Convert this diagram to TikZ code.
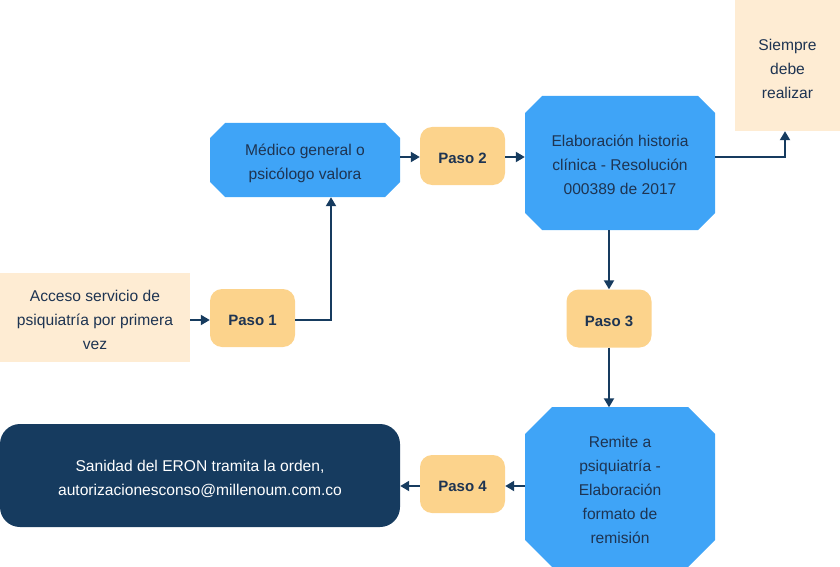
\documentclass[tikz,border=0pt]{standalone}
\usepackage{fontspec}
\setmainfont{Liberation Sans}
\usetikzlibrary{arrows.meta}
\definecolor{cblue}{HTML}{3FA4F7}
\definecolor{cpeach}{HTML}{FEECD3}
\definecolor{corange}{HTML}{FCD38C}
\definecolor{cnavy}{HTML}{163B5F}
\definecolor{ctext}{HTML}{1E3452}
\newcommand\octfill[5]{% x1 y1 x2 y2 chamfer
  \fill[cblue] (#1+#5,#2) -- (#3-#5,#2) -- (#3,#2+#5) -- (#3,#4-#5) -- (#3-#5,#4) -- (#1+#5,#4) -- (#1,#4-#5) -- (#1,#2+#5) -- cycle;}
\begin{document}
\begin{tikzpicture}[x=1pt,y=-1pt,
  every node/.style={text=ctext, align=center, inner sep=0pt},
  txt/.style={font=\fontsize{15.6}{24}\selectfont},
  ptxt/.style={font=\fontsize{15}{24}\selectfont\bfseries},
  peach/.style={rectangle, fill=cpeach},
  paso/.style={rectangle, rounded corners=12pt, fill=corange, minimum width=85pt, minimum height=58pt},
  octa/.style={rectangle},
  conn/.style={draw=cnavy, line width=2pt, -{Triangle[length=9pt,width=10pt]}}
]
\useasboundingbox (0,0) rectangle (840,567);
\octfill{210}{123}{400}{197}{15}
\octfill{525}{96}{715}{230}{17}
\octfill{525}{407}{715}{567}{27}
\node[peach, minimum width=190pt, minimum height=89pt] (acc) at (95,317.5) {};
\node[paso] (p1) at (252.5,318) {};
\node[octa, minimum width=190pt, minimum height=74pt] (med) at (305,160) {};
\node[paso] (p2) at (462.5,156) {};
\node[octa, minimum width=190pt, minimum height=134pt] (hist) at (620,163) {};
\node[peach, minimum width=105pt, minimum height=131pt] (siem) at (787.5,65.5) {};
\node[paso] (p3) at (609,318.5) {};
\node[octa, minimum width=190pt, minimum height=160pt] (rem) at (620,487.5) {};
\node[paso] (p4) at (462.5,484) {};
\node[rectangle, rounded corners=20pt, fill=cnavy, minimum width=400pt, minimum height=103pt] (san) at (200,475.5) {};
\node[txt] (accT) at ([yshift=-2.5pt]acc.center) {Acceso servicio de\\psiquiatría por primera\\vez};
\node[ptxt] (p1T) at ([yshift=-2.5pt]p1.center) {Paso 1};
\node[txt] (medT) at ([yshift=-3.5pt]med.center) {Médico general o\\psicólogo valora};
\node[ptxt] (p2T) at ([yshift=-2.5pt]p2.center) {Paso 2};
\node[txt] (histT) at ([yshift=-2pt]hist.center) {Elaboración historia\\clínica - Resolución\\000389 de 2017};
\node[txt] (siemT) at ([yshift=-3pt]siem.center) {Siempre\\debe\\realizar};
\node[ptxt] (p3T) at ([yshift=-2.5pt]p3.center) {Paso 3};
\node[txt] (remT) at ([yshift=-2pt]rem.center) {Remite a\\psiquiatría -\\Elaboración\\formato de\\remisión};
\node[ptxt] (p4T) at ([yshift=-2.5pt]p4.center) {Paso 4};
\node[txt, text=white] (sanT) at ([yshift=-3pt]san.center) {Sanidad del ERON tramita la orden,\\autorizacionesconso@millenoum.com.co};
\draw[conn] ([yshift=-2pt]p1.west -| acc.east) -- ([yshift=-2pt]p1.west);
\draw[conn] ([yshift=-2pt]p1.east) -| ([xshift=26pt]med.south);
\draw[conn] ([yshift=-1pt]p2.west -| med.east) -- ([yshift=-1pt]p2.west);
\draw[conn] ([yshift=-1pt]p2.east) -- ([yshift=-1pt]p2.east -| hist.west);
\draw[conn] ([yshift=-1pt]p2.east -| hist.east) -| ([xshift=-2.5pt]siem.south);
\draw[conn] (p3.north |- hist.south) -- (p3.north);
\draw[conn] (p3.south) -- (p3.south |- rem.north);
\draw[conn] ([yshift=-2pt]p4.east -| rem.west) -- ([yshift=-2pt]p4.east);
\draw[conn] ([yshift=-2pt]p4.west) -- ([yshift=-2pt]p4.west -| san.east);
\end{tikzpicture}
\end{document}
